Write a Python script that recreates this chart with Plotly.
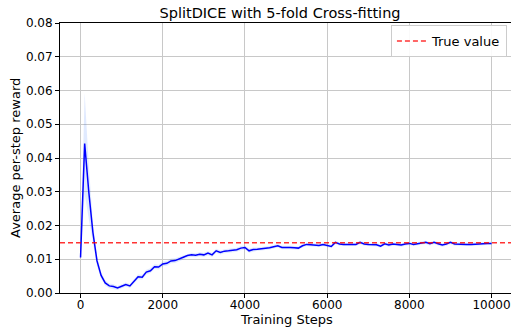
import plotly.graph_objects as go

steps = list(range(0, 10001, 100))
mean_reward = [
    0.0105, 0.0443, 0.0300, 0.0180, 0.0095, 0.0052, 0.0030, 0.0021, 0.0019, 0.0015,
    0.0020, 0.0025, 0.0021, 0.0035, 0.0048, 0.0047, 0.0062, 0.0066, 0.0078, 0.0077,
    0.0086, 0.0088, 0.0095, 0.0096, 0.0100, 0.0106, 0.0111, 0.0113, 0.0112, 0.0115,
    0.0113, 0.0118, 0.0113, 0.0125, 0.0120, 0.0124, 0.0125, 0.0127, 0.0128, 0.0133,
    0.0135, 0.0125, 0.0129, 0.0130, 0.0131, 0.0132, 0.0134, 0.0137, 0.0140, 0.0135,
    0.0136, 0.0135, 0.0134, 0.0133, 0.0140, 0.0144, 0.0143, 0.0142, 0.0141, 0.0144,
    0.0142, 0.0138, 0.0150, 0.0145, 0.0144, 0.0144, 0.0145, 0.0144, 0.0150, 0.0145,
    0.0144, 0.0143, 0.0143, 0.0139, 0.0146, 0.0142, 0.0145, 0.0144, 0.0142, 0.0145,
    0.0147, 0.0144, 0.0146, 0.0148, 0.0150, 0.0146, 0.0150, 0.0146, 0.0142, 0.0145,
    0.0150, 0.0145, 0.0144, 0.0144, 0.0144, 0.0144, 0.0145, 0.0146, 0.0148, 0.0147,
    0.0147,
]
std_reward = [
    0.0004, 0.0150, 0.0080, 0.0030, 0.0015, 0.0010, 0.0008, 0.0007, 0.0007, 0.0006,
    0.0006, 0.0006, 0.0006, 0.0007, 0.0007, 0.0007, 0.0007, 0.0007, 0.0007, 0.0007,
    0.0007, 0.0007, 0.0007, 0.0007, 0.0007, 0.0007, 0.0006, 0.0006, 0.0006, 0.0006,
    0.0006, 0.0006, 0.0006, 0.0006, 0.0006, 0.0006, 0.0006, 0.0006, 0.0006, 0.0006,
    0.0006, 0.0006, 0.0006, 0.0005, 0.0005, 0.0005, 0.0005, 0.0005, 0.0005, 0.0005,
    0.0005, 0.0005, 0.0005, 0.0005, 0.0005, 0.0005, 0.0005, 0.0005, 0.0005, 0.0005,
    0.0005, 0.0005, 0.0005, 0.0005, 0.0005, 0.0005, 0.0005, 0.0005, 0.0005, 0.0005,
    0.0005, 0.0005, 0.0005, 0.0005, 0.0005, 0.0005, 0.0005, 0.0005, 0.0005, 0.0005,
    0.0005, 0.0005, 0.0005, 0.0005, 0.0005, 0.0005, 0.0005, 0.0005, 0.0005, 0.0005,
    0.0005, 0.0005, 0.0005, 0.0005, 0.0005, 0.0005, 0.0005, 0.0005, 0.0005, 0.0005,
    0.0005,
]
true_value = 0.0149
x_ticks = [0, 2000, 4000, 6000, 8000, 10000]
y_ticks = [0.00, 0.01, 0.02, 0.03, 0.04, 0.05, 0.06, 0.07, 0.08]

upper = [m + s for m, s in zip(mean_reward, std_reward)]
lower = [m - s for m, s in zip(mean_reward, std_reward)]

fig = go.Figure()
fig.add_trace(go.Scatter(x=steps, y=upper, mode="lines", line=dict(width=0),
                         showlegend=False, hoverinfo="skip"))
fig.add_trace(go.Scatter(x=steps, y=lower, mode="lines", line=dict(width=0),
                         fill="tonexty", fillcolor="rgba(0,80,255,0.12)",
                         showlegend=False, hoverinfo="skip"))
fig.add_trace(go.Scatter(x=steps, y=mean_reward, mode="lines",
                         line=dict(color="#0000ff", width=1.5), showlegend=False))
fig.add_trace(go.Scatter(x=[-500, 10500], y=[true_value, true_value], mode="lines",
                         line=dict(color="rgba(255,0,0,0.8)", width=1.5, dash="5px,3px"),
                         name="True value"))

font = "DejaVu Sans, sans-serif"
fig.update_layout(
    width=511, height=328,
    margin=dict(l=60, r=0, t=23, b=35),
    paper_bgcolor="white", plot_bgcolor="white",
    font=dict(family=font, size=12, color="black"),
    title=dict(text="SplitDICE with 5-fold Cross-fitting", x=0.548, xanchor="center",
               xref="container", y=(328 - 13) / 328, yref="container", yanchor="middle",
               font=dict(size=14.5, family=font)),
    legend=dict(x=0.991, xanchor="right", y=0.992, yanchor="top",
                bgcolor="rgba(255,255,255,0.9)", bordercolor="#cccccc", borderwidth=1,
                font=dict(size=13, family=font)),
    showlegend=True,
    annotations=[
        dict(text="Training Steps", xref="paper", yref="paper", x=0.503,
             y=-(319 - 293) / 270, xanchor="center", yanchor="middle", showarrow=False,
             font=dict(size=13, family=font)),
        dict(text="Average per-step reward", xref="paper", yref="paper", x=-(60 - 15) / 451,
             y=0.5, xanchor="center", yanchor="middle", textangle=-90, showarrow=False,
             font=dict(size=13, family=font)),
    ],
)
fig.update_xaxes(range=[-500, 10473], tickvals=x_ticks, ticktext=[str(t) for t in x_ticks],
                 showgrid=True, gridcolor="#c8c8c8", gridwidth=1,
                 showline=True, linecolor="black", linewidth=1, mirror=True,
                 ticks="outside", ticklen=4, tickcolor="black", zeroline=False,
                 ticklabeloverflow="allow", tickfont=dict(size=12), ticklabelstandoff=-3)
fig.update_yaxes(range=[0, 0.08], tickvals=y_ticks, ticktext=[f"{t:.2f}" for t in y_ticks],
                 showgrid=True, gridcolor="#c8c8c8", gridwidth=1,
                 showline=True, linecolor="black", linewidth=1, mirror=False,
                 ticks="outside", ticklen=4, tickcolor="black", zeroline=False,
                 tickfont=dict(size=12))

fig.write_html("out.html")
